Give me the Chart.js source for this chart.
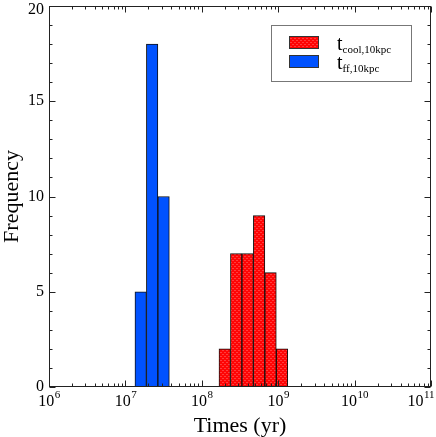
<!DOCTYPE html>
<html><head><meta charset="utf-8">
<script src="https://cdn.jsdelivr.net/npm/chart.js@4.4.0/dist/chart.umd.min.js"></script>
<style>html,body{margin:0;padding:0;background:#fff}</style>
</head><body>
<canvas id="c" width="436" height="437"></canvas>
<script>
// Histogram bin edges in log10(time / yr) and counts per bin
const coolLabel = 't_cool,10kpc';
const coolEdges = [8.225, 8.375, 8.525, 8.675, 8.825, 8.975, 9.125];
const coolCounts = [2, 7, 7, 9, 6, 2];
const ffLabel = 't_ff,10kpc';
const ffEdges = [7.125, 7.275, 7.425, 7.575];
const ffCounts = [5, 18, 10];
// Axis ticks
const xTickExponents = [6, 7, 8, 9, 10, 11];
const yTickValues = [0, 5, 10, 15, 20];

const FONT = "'Liberation Serif', 'Times New Roman', serif";

function toBars(edges, counts) {
  return counts.map((c, i) => ({ x: (edges[i] + edges[i + 1]) / 2, y: c }));
}

// dotted red pattern
function redPattern() {
  const p = document.createElement('canvas');
  p.width = 4; p.height = 4;
  const g = p.getContext('2d');
  g.fillStyle = '#ff0505'; g.fillRect(0, 0, 4, 4);
  g.fillStyle = '#ff3c3c';
  g.fillRect(0, 0, 2, 1); g.fillRect(2, 2, 2, 1);
  return g.createPattern(p, 'repeat');
}
const ctx0 = document.getElementById('c').getContext('2d');
const RED = redPattern();
const BLUE = '#0052ff';

const framePlugin = {
  id: 'frame',
  afterDatasetsDraw(chart) {
    const { ctx, chartArea: a, scales: { x, y } } = chart;
    const W = chart.width;
    ctx.save();
    ctx.strokeStyle = '#222';
    ctx.lineWidth = 1;
    const L = Math.round(a.left) + 0.5, R = Math.round(a.right) - 0.5;
    const T = Math.round(a.top) + 0.5, B = Math.round(a.bottom) - 0.5;
    ctx.strokeRect(L, T, R - L, B - T);
    ctx.beginPath();
    // y ticks (inward, both sides)
    for (let v = y.min; v <= y.max; v++) {
      const py = Math.round(y.getPixelForValue(v)) + 0.5;
      const len = yTickValues.includes(v) ? 6 : 3;
      ctx.moveTo(L, py); ctx.lineTo(L + len, py);
      ctx.moveTo(R, py); ctx.lineTo(R - len, py);
    }
    // x ticks (log decades major, minor 2..9)
    for (const e of xTickExponents) {
      const px = Math.round(x.getPixelForValue(e)) + 0.5;
      ctx.moveTo(px, B); ctx.lineTo(px, B - 6);
      ctx.moveTo(px, T); ctx.lineTo(px, T + 6);
      if (e < x.max) {
        for (let k = 2; k <= 9; k++) {
          const pm = Math.round(x.getPixelForValue(e + Math.log10(k))) + 0.5;
          ctx.moveTo(pm, B); ctx.lineTo(pm, B - 3);
          ctx.moveTo(pm, T); ctx.lineTo(pm, T + 3);
        }
      }
    }
    ctx.stroke();

    ctx.fillStyle = '#000';
    // y tick labels
    ctx.font = '16px ' + FONT;
    ctx.textAlign = 'right';
    ctx.textBaseline = 'middle';
    for (const v of yTickValues) {
      const py = Math.max(y.getPixelForValue(v), 10);
      ctx.fillText(String(v), a.left - 5, py);
    }

    // x tick labels 10^n
    ctx.textBaseline = 'alphabetic';
    ctx.textAlign = 'left';
    for (const e of xTickExponents) {
      const px = x.getPixelForValue(e);
      ctx.font = '16px ' + FONT;
      const wb = ctx.measureText('10').width;
      ctx.font = '11px ' + FONT;
      const ws = ctx.measureText(String(e)).width;
      let x0 = px - (wb + ws) / 2;
      x0 = Math.min(x0, W - 2 - wb - ws);
      ctx.font = '16px ' + FONT;
      ctx.fillText('10', x0, 406);
      ctx.font = '11px ' + FONT;
      ctx.fillText(String(e), x0 + wb + 0.5, 398);
    }

    // legend
    ctx.strokeStyle = '#777';
    ctx.strokeRect(271.5, 25.5, 140, 56);
    const rows = [{ y: 36 }, { y: 55 }];
    chart.data.datasets.forEach((ds, i) => {
      const ry = rows[i].y;
      ctx.fillStyle = ds.backgroundColor;
      ctx.fillRect(289, ry, 30, 13);
      ctx.strokeStyle = '#333';
      ctx.strokeRect(289.5, ry + 0.5, 29, 12);
      const [main, sub] = ds.label.split('_');
      ctx.fillStyle = '#000';
      ctx.font = '20px ' + FONT;
      ctx.fillText(main, 337, ry + 14);
      const wm = ctx.measureText(main).width;
      ctx.font = '11px ' + FONT;
      ctx.fillText(sub, 337 + wm, ry + 17);
    });
    ctx.restore();
  }
};

new Chart(ctx0, {
  type: 'bar',
  data: {
    datasets: [
      { label: coolLabel, data: toBars(coolEdges, coolCounts), backgroundColor: RED,
        borderColor: '#111', borderWidth: 1, borderSkipped: false },
      { label: ffLabel, data: toBars(ffEdges, ffCounts), backgroundColor: BLUE,
        borderColor: '#111', borderWidth: 1, borderSkipped: false }
    ]
  },
  options: {
    responsive: false,
    animation: false,
    devicePixelRatio: 1,
    grouped: false,
    barPercentage: 1,
    categoryPercentage: 1,
    layout: { padding: { top: 6, right: 5, left: 0, bottom: 0 } },
    plugins: { legend: { display: false }, tooltip: { enabled: false } },
    scales: {
      x: {
        type: 'linear', min: 6, max: 11, offset: false,
        grid: { display: false, offset: false, drawTicks: false },
        border: { display: false },
        ticks: { display: false, stepSize: 1 },
        title: { display: true, text: 'Times (yr)', color: '#000',
          font: { family: FONT, size: 22, lineHeight: 1 }, padding: { top: 0, bottom: 0 } },
        afterFit(s) { s.height = 50; s.paddingLeft = 0; s.paddingRight = 0; }
      },
      y: {
        min: 0, max: 20,
        grid: { display: false, drawTicks: false },
        border: { display: false },
        ticks: { display: false, stepSize: 5 },
        title: { display: true, text: 'Frequency', color: '#000',
          font: { family: FONT, size: 22, lineHeight: 1 }, padding: { top: 1, bottom: 0 } },
        afterFit(s) { s.width = 49; s.paddingTop = 0; s.paddingBottom = 0; }
      }
    }
  },
  plugins: [framePlugin]
});
</script>
</body></html>
